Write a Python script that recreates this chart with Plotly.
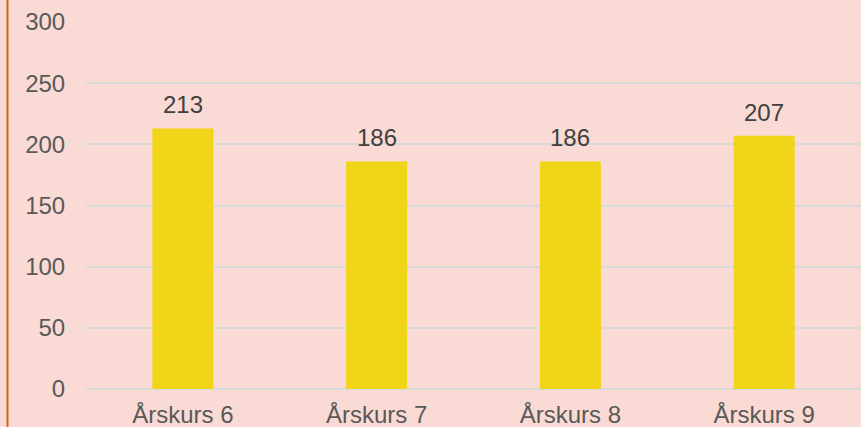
import plotly.graph_objects as go

categories = ["Årskurs 6", "Årskurs 7", "Årskurs 8", "Årskurs 9"]
values = [213, 186, 186, 207]
y_ticks = [0, 50, 100, 150, 200, 250, 300]

W, H = 861, 427
ML, MR, MT, MB = 86, 0, 22, 38
plot_w = W - ML - MR
plot_h = H - MT - MB

bg = "#FADAD4"
bar_color = "#F0D518"
grid_color = "#D9D9D9"
tick_font = dict(family="Liberation Sans, Arial, sans-serif", size=24, color="#595959")
label_font = dict(family="Liberation Sans, Arial, sans-serif", size=24, color="#404040")

fig = go.Figure(
    go.Bar(
        x=categories,
        y=values,
        marker=dict(color=bar_color, line=dict(width=0)),
        width=0.315,
        hoverinfo="skip",
    )
)

# value labels above each bar
for c, v in zip(categories, values):
    fig.add_annotation(
        x=c, y=v, text=str(v), showarrow=False,
        yanchor="bottom", yshift=8, font=label_font,
    )

# orange rule along the left edge of the chart
fig.add_shape(
    type="line", xref="paper", yref="paper",
    x0=(7.5 - ML) / plot_w, x1=(7.5 - ML) / plot_w,
    y0=-MB / plot_h - 0.05, y1=1 + MT / plot_h + 0.05,
    line=dict(color="#D5620F", width=2),
)

fig.update_layout(
    width=W, height=H,
    margin=dict(l=ML, r=MR, t=MT, b=MB, pad=0, autoexpand=False),
    paper_bgcolor=bg, plot_bgcolor=bg,
    showlegend=False,
    xaxis=dict(
        automargin=False,
        showgrid=False, showline=False, zeroline=False,
        ticks="outside", ticklen=4, tickcolor="rgba(0,0,0,0)",
        tickfont=tick_font,
    ),
    yaxis=dict(
        automargin=False,
        range=[0, 300], tickvals=y_ticks,
        showgrid=True, gridcolor=grid_color, gridwidth=1.5,
        zeroline=True, zerolinecolor=grid_color, zerolinewidth=1.5,
        showline=False,
        ticks="outside", ticklen=15, tickcolor="rgba(0,0,0,0)",
        tickfont=tick_font,
    ),
)

fig.write_html("out.html")
